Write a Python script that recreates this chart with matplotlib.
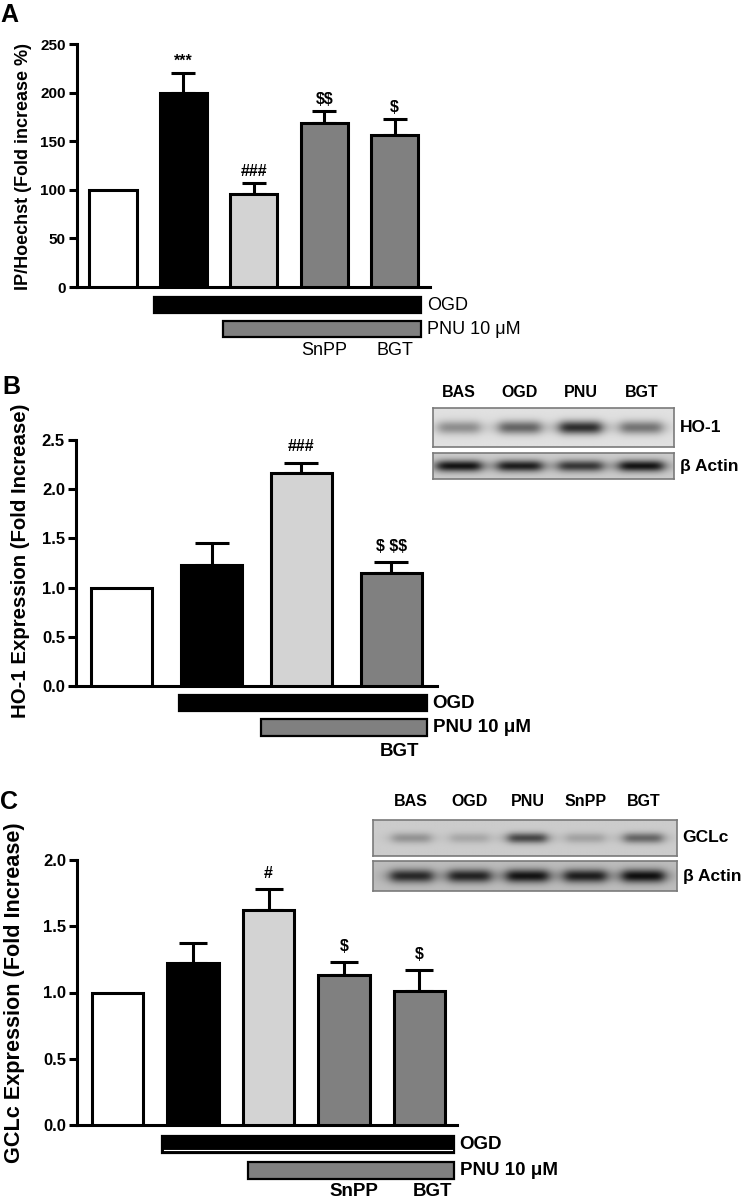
import numpy as np
import matplotlib.pyplot as plt
from matplotlib import font_manager
from matplotlib.patches import Rectangle

# ---------------- data ----------------
# A: cell death, IP/Hoechst
a_vals = [100, 200, 96, 169, 156]
a_err = [0, 20, 11, 12, 17]
a_marks = ['', '***', '###', '$$', '$']
a_yticks = [0, 50, 100, 150, 200, 250]

# B: HO-1 expression
b_vals = [1.0, 1.23, 2.16, 1.15]
b_err = [0, 0.22, 0.11, 0.11]
b_marks = ['', '', '###', '$ $$']
b_yticks = [0.0, 0.5, 1.0, 1.5, 2.0, 2.5]

# C: GCLc expression
c_vals = [1.0, 1.22, 1.62, 1.13, 1.01]
c_err = [0, 0.15, 0.16, 0.10, 0.16]
c_marks = ['', '', '#', '$', '$']
c_yticks = [0.0, 0.5, 1.0, 1.5, 2.0]

a_colors = ['white', 'black', '#d3d3d3', '#808080', '#808080']
b_colors = ['white', 'black', '#d3d3d3', '#808080']
c_colors = ['white', 'black', '#d3d3d3', '#808080', '#808080']

# treatment bars: (label, first group, last group, fill)
a_treat = [('OGD', 1, 4, 'black'), ('PNU 10 μM', 2, 4, '#808080')]
b_treat = [('OGD', 1, 3, 'black'), ('PNU 10 μM', 2, 3, '#808080')]
c_treat = [('OGD', 1, 4, 'black'), ('PNU 10 μM', 2, 4, '#808080')]
a_inhib = [(3, 'SnPP'), (4, 'BGT')]
b_inhib = [(3, 'BGT')]
c_inhib = [(3, 'SnPP'), (4, 'BGT')]

# western blots (band darkness per lane)
b_lanes = ['BAS', 'OGD', 'PNU', 'BGT']
b_ho1 = [0.32, 0.48, 0.70, 0.42]
b_actin = [0.72, 0.68, 0.58, 0.72]
c_lanes = ['BAS', 'OGD', 'PNU', 'SnPP', 'BGT']
c_gclc = [0.22, 0.14, 0.52, 0.16, 0.40]
c_actin = [0.58, 0.60, 0.66, 0.62, 0.68]

# ---------------- layout ----------------
W, H = 750, 1203
names = {f.name for f in font_manager.fontManager.ttflist}
NARROW = 'Liberation Sans Narrow' if 'Liberation Sans Narrow' in names else 'Liberation Sans'
plt.rcParams['font.family'] = ['Liberation Sans', 'DejaVu Sans']
plt.rcParams['text.parse_math'] = False

fig = plt.figure(figsize=(W / 100, H / 100), dpi=100)


def px(x0, y0, x1, y1):
    return [x0 / W, 1 - y1 / H, (x1 - x0) / W, (y1 - y0) / H]


def bar_panel(rect, vals, err, colors, marks, yticks, fmt, xlim, width, capsize,
              tick_family, tick_size, mark_pad):
    ax = fig.add_axes(px(*rect))
    x = np.arange(len(vals))
    ax.bar(x, vals, width=width, color=colors, edgecolor='black', linewidth=2.2, zorder=3)
    ax.errorbar(x[1:], vals[1:], yerr=[np.zeros(len(vals) - 1), err[1:]], fmt='none',
                ecolor='black', elinewidth=2.2, capsize=capsize, capthick=2.2, zorder=2)
    for i, m in enumerate(marks):
        if m:
            ax.annotate(m, (i, vals[i] + err[i]), xytext=(0, mark_pad), textcoords='offset points',
                        ha='center', va='bottom', fontsize=11.5, fontweight='bold')
    ax.set_xlim(*xlim)
    ax.set_ylim(yticks[0], yticks[-1])
    ax.set_xticks([])
    ax.set_yticks(yticks)
    ax.set_yticklabels([fmt.format(t) for t in yticks], family=[tick_family, 'DejaVu Sans'],
                       fontweight='bold', fontsize=tick_size)
    ax.tick_params(axis='y', direction='out', length=6, width=2.2, pad=2)
    for s in ['top', 'right']:
        ax.spines[s].set_visible(False)
    for s in ['left', 'bottom']:
        ax.spines[s].set_linewidth(2.2)
    return ax


def treat_rows(rect, xlim, treat, rows, row_h, pads, inhib, inhib_y, inhib_dx, family, weight, size,
               white_line=False):
    ax = fig.add_axes(px(*rect))
    ax.set_xlim(*xlim)
    ax.set_ylim(rect[3], rect[1])
    ax.axis('off')
    for (label, g0, g1, fill), y0, lp in zip(treat, rows, pads[1:]):
        x0, x1 = g0 - lp, g1 + pads[0]
        ax.add_patch(Rectangle((x0, y0), x1 - x0, row_h, facecolor=fill, edgecolor='black',
                               linewidth=1.6))
        if white_line and fill == 'black':
            ax.plot([x0 + 0.03, x1 - 0.03], [y0 + row_h - 3, y0 + row_h - 3], color='white', lw=0.8)
        ax.annotate(label, (x1, y0 + row_h / 2), xytext=(4, 0), textcoords='offset points',
                    ha='left', va='center', family=[family, 'DejaVu Sans'], fontweight=weight,
                    fontsize=size)
    for (g, label), dx in zip(inhib, inhib_dx):
        ax.text(g + dx, inhib_y, label, ha='center', va='center', family=[family, 'DejaVu Sans'],
                fontweight=weight, fontsize=size)
    return ax


def blot_strip(rect, dark, bg, start, step, half_w, band_h, side_label, lane_labels=None,
               label_pad=11):
    ax = fig.add_axes(px(*rect))
    n = len(dark)
    h, w = 60, 400
    xx = np.linspace(0, n, w)
    yy = np.linspace(-1, 1, h)
    img = np.full((h, w), bg)
    for i, d in enumerate(dark):
        c = start + i * step
        prof_x = 1 / (1 + ((xx - c) / half_w) ** 6)
        prof_y = np.exp(-(yy / band_h) ** 2)
        img -= d * np.outer(prof_y, prof_x)
    ax.imshow(img, cmap='gray', vmin=0, vmax=1, aspect='auto', interpolation='bilinear',
              extent=(0, n, 1, 0))
    ax.set_xticks([])
    ax.set_yticks([])
    for s in ax.spines.values():
        s.set_color('#7a7a7a')
        s.set_linewidth(1.2)
    ax.annotate(side_label, (1, 0.5), xycoords='axes fraction', xytext=(4, 0),
                textcoords='offset points', ha='left', va='center', fontsize=12.5, fontweight='bold')
    if lane_labels:
        for i, lab in enumerate(lane_labels):
            ax.annotate(lab, (start + i * step, 1), xycoords=('data', 'axes fraction'),
                        xytext=(0, label_pad), textcoords='offset points', ha='center',
                        va='center', fontsize=11.5, fontweight='bold')
    return ax


# ---------------- panel A ----------------
xa = (-0.51, 4.5)
bar_panel((77, 44, 430, 287), a_vals, a_err, a_colors, a_marks, a_yticks, '{:.0f}', xa, 0.67, 8.5,
          'Liberation Sans', 11, 3)
treat_rows((77, 290, 430, 362), xa, a_treat, [297, 321], 16, (0.375, 0.42, 0.44), a_inhib, 350,
           (0, 0), 'Liberation Sans', 'normal', 13)
fig.text(24 / W, 1 - 166 / H, 'IP/Hoechst (Fold increase %)', rotation=90, ha='center', va='center',
         fontsize=13, fontweight='bold')
fig.text(0, 1 - 3 / H, 'A', ha='left', va='top', fontsize=18, fontweight='bold')

# ---------------- panel B ----------------
xb = (-0.51, 3.51)
bar_panel((76, 440, 437, 686), b_vals, b_err, b_colors, b_marks, b_yticks, '{:.1f}', xb, 0.68, 12,
          NARROW, 12, 6)
treat_rows((76, 688, 437, 765), xb, b_treat, [695, 719], 16.5, (0.4, 0.365, 0.45), b_inhib, 751,
           (0.09,), NARROW, 'bold', 13.5)
fig.text(21 / W, 1 - 561 / H, 'HO-1 Expression (Fold Increase)', rotation=90, ha='center',
         va='center', fontsize=14.7, fontweight='bold')
fig.text(2 / W, 1 - 375 / H, 'B', ha='left', va='top', fontsize=18, fontweight='bold')
blot_strip((433, 408, 674, 447), b_ho1, 0.88, 0.43, 1.01, 0.36, 0.35, 'HO-1', b_lanes, 11.5)
blot_strip((433, 453, 674, 479), b_actin, 0.80, 0.43, 1.01, 0.38, 0.45, 'β Actin')

# ---------------- panel C ----------------
xc = (-0.54, 4.5)
bar_panel((77, 860, 457, 1125), c_vals, c_err, c_colors, c_marks, c_yticks, '{:.1f}', xc, 0.68, 10,
          NARROW, 12, 6)
treat_rows((77, 1128, 457, 1203), xc, c_treat, [1136, 1162], 17, (0.46, 0.41, 0.27), c_inhib, 1192,
           (0.13, 0.17), NARROW, 'bold', 13.5, white_line=True)
fig.text(15 / W, 1 - 993 / H, 'GCLc Expression (Fold Increase)', rotation=90, ha='center',
         va='center', fontsize=15.6, fontweight='bold')
fig.text(0, 1 - 790 / H, 'C', ha='left', va='top', fontsize=18, fontweight='bold')
blot_strip((373, 820, 677, 856), c_gclc, 0.80, 0.63, 0.955, 0.33, 0.3, 'GCLc', c_lanes, 13)
blot_strip((373, 861, 677, 891), c_actin, 0.74, 0.63, 0.955, 0.36, 0.45, 'β Actin')

fig.savefig('out.png', dpi=100)
